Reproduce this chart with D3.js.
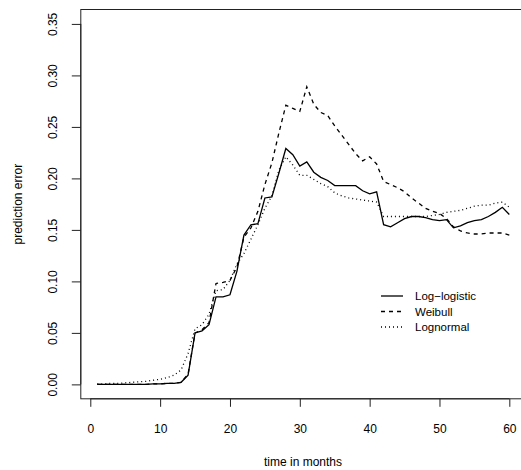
<!DOCTYPE html>
<html><head><meta charset="utf-8">
<script src="https://cdn.jsdelivr.net/npm/d3@7"></script>
<style>body{margin:0;background:#fff}svg{display:block;font-family:"Liberation Sans",Arial,sans-serif}</style>
</head><body>
<script>
const months = d3.range(1, 61);
const logLogistic = [0,0,0,0,0,0,0,0,0.0005,0.0005,0.001,0.001,0.002,0.009,0.05,0.052,0.058,0.085,0.085,0.087,
  0.11,0.145,0.155,0.156,0.181,0.182,0.205,0.229,0.223,0.212,0.216,0.206,0.201,0.198,0.193,0.193,0.193,0.193,0.188,0.185,
  0.187,0.155,0.153,0.157,0.161,0.163,0.163,0.162,0.160,0.159,0.160,0.152,0.154,0.157,0.159,0.160,0.163,0.167,0.172,0.165];
const weibull = [0,0,0,0,0,0,0,0,0.0005,0.0005,0.001,0.001,0.002,0.01,0.05,0.053,0.06,0.098,0.099,0.101,
  0.114,0.143,0.152,0.168,0.194,0.215,0.244,0.271,0.268,0.265,0.289,0.272,0.264,0.261,0.251,0.242,0.233,0.224,0.217,0.221,
  0.214,0.197,0.194,0.191,0.187,0.181,0.176,0.171,0.168,0.166,0.161,0.153,0.149,0.147,0.146,0.146,0.147,0.147,0.147,0.145];
const lognormal = [0.0005,0.0005,0.001,0.001,0.0015,0.002,0.0025,0.003,0.004,0.005,0.0065,0.009,0.014,0.03,0.054,0.058,0.068,0.091,0.092,0.101,
  0.117,0.127,0.141,0.155,0.171,0.183,0.208,0.221,0.213,0.203,0.203,0.199,0.195,0.192,0.186,0.183,0.181,0.180,0.179,0.178,
  0.177,0.163,0.163,0.163,0.163,0.163,0.163,0.163,0.164,0.165,0.167,0.168,0.169,0.171,0.173,0.174,0.174,0.176,0.177,0.172];
const xTicks = [0,10,20,30,40,50,60];
const yTicks = [0,0.05,0.10,0.15,0.20,0.25,0.30,0.35];
const seriesNames = ["Log\u2212logistic","Weibull","Lognormal"];
const dashes = [null,"4,4","1,3"];

const W = 521, H = 470;
const svg = d3.select("body").append("svg").attr("width", W).attr("height", H);

const x = d3.scaleLinear().domain([-1.36, 62.36]).range([80.8, 525.8]);
const y = d3.scaleLinear().domain([-0.014, 0.364]).range([398.8, 9.5]);

// box
svg.append("rect").attr("x", x(-1.36)).attr("y", y(0.364))
  .attr("width", x(62.36)-x(-1.36)).attr("height", y(-0.014)-y(0.364))
  .attr("fill","none").attr("stroke","#222").attr("stroke-width",1);

// x axis
const xa = svg.append("g").attr("transform", `translate(0,${y(-0.014)})`)
  .call(d3.axisBottom(x).tickValues(xTicks).tickSize(8).tickPadding(18).tickFormat(d3.format("d")));
xa.select(".domain").attr("d", `M${x(0)},0H${x(60)}`).attr("stroke","#222");
xa.selectAll("line").attr("stroke","#222");
xa.selectAll("text").attr("font-size", 12).attr("fill","#000").attr("font-family","Liberation Sans, Arial, sans-serif");

// y axis
const ya = svg.append("g").attr("transform", `translate(${x(-1.36)},0)`)
  .call(d3.axisLeft(y).tickValues(yTicks).tickSize(9).tickFormat(d3.format(".2f")));
ya.select(".domain").attr("d", `M0,${y(0)}V${y(0.35)}`).attr("stroke","#222");
ya.selectAll("line").attr("stroke","#222");
ya.selectAll("text").attr("font-size", 12).attr("fill","#000")
  .attr("font-family","Liberation Sans, Arial, sans-serif")
  .attr("text-anchor","middle").attr("dy", null)
  .attr("x", null)
  .attr("transform", "translate(-28,0) rotate(-90)")
  .attr("dominant-baseline","central");

// lines
const line = d3.line().x((d,i)=>x(months[i])).y(d=>y(d));
[logLogistic, weibull, lognormal].forEach((s, k) => {
  svg.append("path").datum(s).attr("d", line).attr("fill","none")
    .attr("stroke","#000").attr("stroke-width", 1.3)
    .attr("stroke-dasharray", dashes[k]);
});

// legend
const lg = svg.append("g");
seriesNames.forEach((n, k) => {
  const yy = 296 + k*15.5;
  lg.append("line").attr("x1",381).attr("x2",403).attr("y1",yy).attr("y2",yy)
    .attr("stroke","#000").attr("stroke-width",1.3).attr("stroke-dasharray", dashes[k]);
  lg.append("text").attr("x",415).attr("y",yy+4).attr("font-size",11.5).text(n);
});

// axis titles
svg.append("text").attr("x", 303).attr("y", 466).attr("text-anchor","middle").attr("font-size",12).text("time in months");
svg.append("text").attr("transform", `translate(22,${(y(-0.014)+y(0.364))/2}) rotate(-90)`)
  .attr("text-anchor","middle").attr("font-size",12).text("prediction error");
</script>
</body></html>
